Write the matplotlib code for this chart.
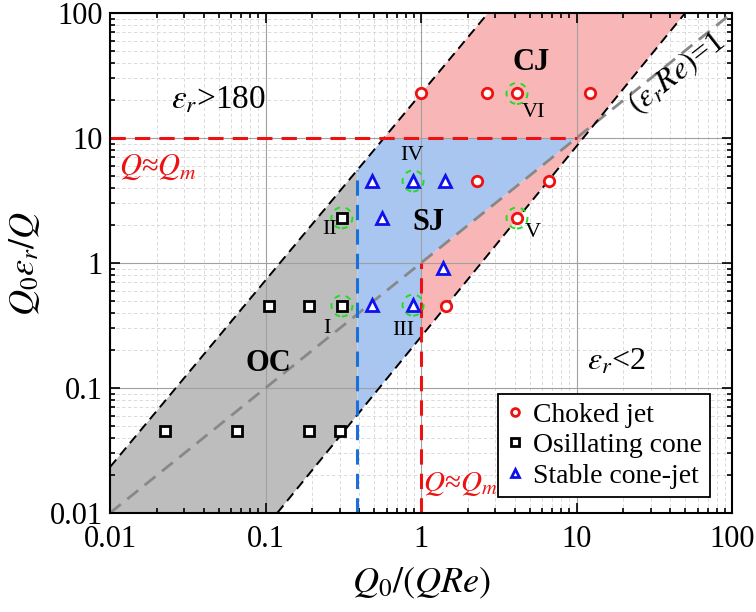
import numpy as np
import matplotlib
matplotlib.use("Agg")
import matplotlib.pyplot as plt
import matplotlib.transforms as mtransforms
from matplotlib.patches import Circle, Polygon
from matplotlib.ticker import FixedLocator, FuncFormatter, LogLocator, NullFormatter

plt.rcParams['font.family'] = ['Liberation Serif', 'DejaVu Serif']
plt.rcParams['mathtext.fontset'] = 'stix'

# measured points
choked_x = [1.0, 2.66, 4.14, 12.2, 2.29, 6.65, 4.14, 1.45]
choked_y = [22.7, 22.7, 22.7, 22.7, 4.53, 4.53, 2.29, 0.453]
osc_x = [0.105, 0.19, 0.31, 0.31, 0.0226, 0.0656, 0.19, 0.30]
osc_y = [0.453, 0.453, 0.453, 2.3, 0.045, 0.045, 0.045, 0.045]
stable_x = [0.484, 0.889, 1.43, 0.561, 1.38, 0.484, 0.889]
stable_y = [4.53, 4.53, 4.53, 2.3, 0.912, 0.46, 0.46]

# highlighted cases I..VI
case_names = ['I', 'II', 'III', 'IV', 'V', 'VI']
case_x = [0.31, 0.31, 0.889, 0.889, 4.14, 4.14]
case_y = [0.453, 2.3, 0.46, 4.53, 2.29, 22.7]

# regime boundaries (two points on each straight log-log line)
upper_line = [(0.01, 0.0233), (2.7, 100.0)]    # eps_r > 180
lower_line = [(0.119, 0.01), (50.0, 100.0)]    # eps_r < 2
q_m_level = 10.0
x_qm = 1.0
x_sj = 0.39


def line_y(p, x):
    (x0, y0), (x1, y1) = p
    k = np.log(y1 / y0) / np.log(x1 / x0)
    return y0 * (x / x0) ** k


def line_x(p, y):
    (x0, y0), (x1, y1) = p
    k = np.log(y1 / y0) / np.log(x1 / x0)
    return x0 * (y / y0) ** (1.0 / k)


fig = plt.figure(figsize=(7.56, 6.12), dpi=100)
ax = fig.add_axes([0.1455, 0.1618, 0.8228, 0.817])
ax.set_xscale('log')
ax.set_yscale('log')
ax.set_xlim(0.01, 100)
ax.set_ylim(0.01, 100)

# minor grid drawn by hand so the fills cover it
minor = [m * 10.0 ** e for e in range(-2, 2) for m in range(2, 10)]
ax.vlines(minor, 0.01, 100, colors='#d4d4d4', linestyles=(0, (4, 3)), lw=0.6, zorder=0.1)
ax.hlines(minor, 0.01, 100, colors='#d4d4d4', linestyles=(0, (4, 3)), lw=0.6, zorder=0.1)

# shaded regimes
gray_poly = [(0.01, 0.01), (0.01, line_y(upper_line, 0.01)), (x_sj, line_y(upper_line, x_sj)),
             (x_sj, line_y(lower_line, x_sj)), (line_x(lower_line, 0.01), 0.01)]
blue_poly = [(x_sj, line_y(lower_line, x_sj)), (x_sj, line_y(upper_line, x_sj)),
             (line_x(upper_line, q_m_level), q_m_level), (q_m_level, q_m_level),
             (x_qm, x_qm), (x_qm, line_y(lower_line, x_qm))]
pink_poly = [(line_x(upper_line, q_m_level), q_m_level), (line_x(upper_line, 100), 100),
             (line_x(lower_line, 100), 100), (x_qm, line_y(lower_line, x_qm)),
             (x_qm, x_qm), (q_m_level, q_m_level)]
ax.add_patch(Polygon(gray_poly, closed=True, facecolor='#bdbdbd', edgecolor='none', zorder=0.3))
ax.add_patch(Polygon(blue_poly, closed=True, facecolor='#a8c6f0', edgecolor='none', zorder=0.3))
ax.add_patch(Polygon(pink_poly, closed=True, facecolor='#f8b6b6', edgecolor='none', zorder=0.3))

# boundary lines
xx = np.array([0.01, 100.0])
ax.plot(xx, xx, color='#888888', ls=(0, (5, 3)), lw=2, zorder=1.6)
ax.plot([upper_line[0][0], line_x(upper_line, 100)], [upper_line[0][1], 100],
        color='black', ls=(0, (5, 3)), lw=1.4, zorder=1.7)
ax.plot([lower_line[0][0], line_x(lower_line, 100)], [lower_line[0][1], 100],
        color='black', ls=(0, (5, 3)), lw=1.4, zorder=1.7)
ax.plot([0.01, q_m_level], [q_m_level, q_m_level], color='#ee1111', ls=(0, (5, 3)), lw=2.2, zorder=1.8)
ax.plot([x_qm, x_qm], [0.01, x_qm], color='#ee1111', ls=(0, (5, 3)), lw=2.2, zorder=1.8)
ax.plot([x_sj, x_sj], [0.01, line_y(upper_line, x_sj)], color='#1a6fd8', ls=(0, (5, 3)), lw=2.2, zorder=1.8)

# data
ax.plot(choked_x, choked_y, 'o', ms=7.5, mfc='white', mec='#ee1111', mew=2, ls='none',
        label='Choked jet', zorder=3)
ax.plot(osc_x, osc_y, 's', ms=7.5, mfc='white', mec='black', mew=2, ls='none',
        label='Osillating cone', zorder=3)
ax.plot(stable_x, stable_y, '^', ms=8.5, mfc='white', mec='#1010ee', mew=2, ls='none',
        label='Stable cone-jet', zorder=3)

# dashed green rings round highlighted cases
for cx, cy in zip(case_x, case_y):
    tr = fig.dpi_scale_trans + mtransforms.ScaledTranslation(cx, cy, ax.transData)
    ax.add_patch(Circle((0, 0), 0.105, transform=tr, fill=False, edgecolor='#22dd22',
                        ls=(0, (3, 3)), lw=1.4, zorder=3.5))

case_text = [(0.248, 0.30), (0.26, 1.84), (0.766, 0.29), (0.87, 7.3), (5.25, 1.74), (5.25, 16.1)]
for name, (tx, ty) in zip(case_names, case_text):
    ax.text(tx, ty, name, fontsize=16, ha='center', va='center', zorder=4)

ax.text(5.1, 40, 'CJ', fontsize=22, fontweight='bold', ha='center', va='center')
ax.text(1.12, 2.1, 'SJ', fontsize=22, fontweight='bold', ha='center', va='center')
ax.text(0.105, 0.158, 'OC', fontsize=22, fontweight='bold', ha='center', va='center')
ax.text(0.05, 20, r'$\varepsilon_r$>180', fontsize=24, ha='center', va='center')
ax.text(18, 0.16, r'$\varepsilon_r$<2', fontsize=23, ha='center', va='center')
ax.text(44, 33, r'$(\varepsilon_r Re)$=1', fontsize=23, ha='center', va='center',
        rotation=38, rotation_mode='anchor')
ax.text(0.0115, 5.8, r'$Q$≈$Q_m$', fontsize=22, color='#ee1111', ha='left', va='center')
ax.text(1.03, 0.017, r'$Q$≈$Q_m$', fontsize=21, color='#ee1111', ha='left', va='center')

# axes styling
ticks = [0.01, 0.1, 1, 10, 100]
fmt = FuncFormatter(lambda v, p: '%g' % v)
for axis in (ax.xaxis, ax.yaxis):
    axis.set_major_locator(FixedLocator(ticks))
    axis.set_major_formatter(fmt)
    axis.set_minor_locator(LogLocator(base=10, subs=np.arange(2, 10)))
    axis.set_minor_formatter(NullFormatter())
ax.tick_params(which='both', direction='in', top=True, right=True, labelsize=22, width=1.2)
ax.tick_params(which='major', length=7)
ax.tick_params(axis='x', which='major', pad=9)
ax.tick_params(axis='y', which='major', pad=5)
ax.tick_params(which='minor', length=3.5)
for s in ax.spines.values():
    s.set_linewidth(1.5)
ax.set_axisbelow(True)
ax.grid(which='major', color='#a0a0a0', lw=0.8)

ax.set_xlabel(r'$Q_0/(QRe)$', fontsize=26, labelpad=8)
ax.set_ylabel(r'$Q_0\varepsilon_r/Q$', fontsize=26, labelpad=6)

leg = ax.legend(loc='lower right', bbox_to_anchor=(0.965, 0.032), borderaxespad=0,
                fontsize=20, markerscale=0.75, handlelength=0.6, handletextpad=0.35,
                borderpad=0.3, labelspacing=0.18, fancybox=False, framealpha=1,
                edgecolor='black')
leg.get_frame().set_linewidth(1.3)

fig.savefig('out.png', dpi=100)
